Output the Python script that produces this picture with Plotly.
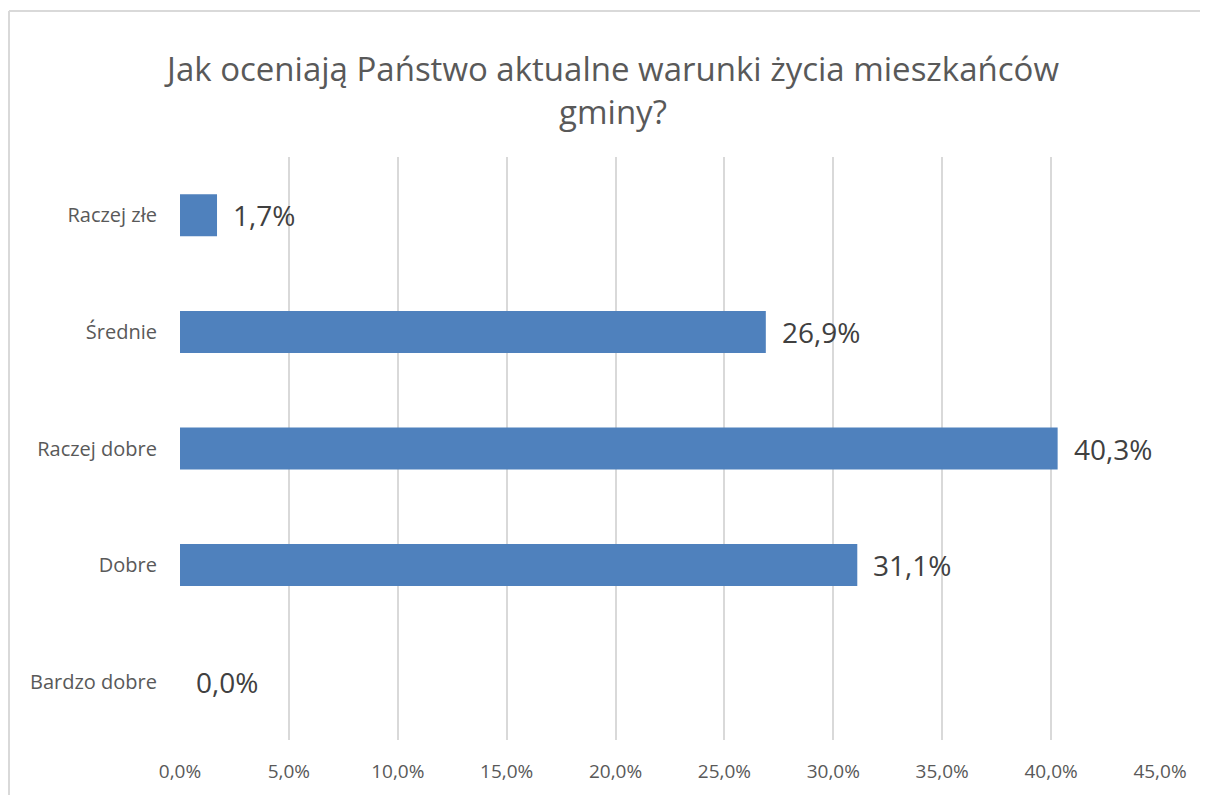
import plotly.graph_objects as go

categories = ["Raczej złe", "Średnie", "Raczej dobre", "Dobre", "Bardzo dobre"]
values = [1.7, 26.9, 40.3, 31.1, 0.0]
tick_vals = [0, 5, 10, 15, 20, 25, 30, 35, 40, 45]
tick_text = [f"{t:.1f}%".replace(".", ",") for t in tick_vals]
title_text = "Jak oceniają Państwo aktualne warunki życia mieszkańców<br>gminy?"

FONT = "Open Sans"
# page has an 8px body margin; figure coordinates are offset accordingly
W, H = 1200, 787
L, R, T, B = 172, 48, 149, 55

fig = go.Figure()
fig.add_trace(go.Bar(
    x=values, y=categories, orientation="h",
    marker=dict(color="#4F81BD", line=dict(width=0)),
    hoverinfo="skip",
))

for v, c in zip(values, categories):
    fig.add_annotation(
        x=v, y=c, xref="x", yref="y",
        text=f"{v:.1f}%".replace(".", ","),
        showarrow=False, xanchor="left", yanchor="middle",
        xshift=14, font=dict(family=FONT, size=28, color="#404040"),
    )

pw = W - L - R
ph = H - T - B
# left and top border lines of the chart frame
fig.add_shape(
    type="line", xref="paper", yref="paper",
    x0=(1 - L) / pw, x1=(1 - L) / pw,
    y0=-(B + 20) / ph, y1=(H - 3 - B) / ph,
    line=dict(color="#D9D9D9", width=2), layer="below",
)
fig.add_shape(
    type="line", xref="paper", yref="paper",
    x0=(1 - L) / pw, x1=(W + 40 - L) / pw,
    y0=(H - 3 - B) / ph, y1=(H - 3 - B) / ph,
    line=dict(color="#D9D9D9", width=2), layer="below",
)

fig.update_layout(
    width=W, height=H,
    margin=dict(l=L, r=R, t=T, b=B),
    paper_bgcolor="white", plot_bgcolor="white",
    bargap=0.64,
    showlegend=False,
    title=dict(
        text=title_text, x=605 / W, xanchor="center", xref="container",
        y=1 - 73 / H, yanchor="middle", yref="container",
        font=dict(family=FONT, size=33, color="#595959"),
    ),
    xaxis=dict(
        range=[0, 45], tickmode="array", tickvals=tick_vals, ticktext=tick_text,
        showgrid=True, gridcolor="#D9D9D9", gridwidth=2,
        zeroline=False, showline=False, ticks="",
        tickfont=dict(family=FONT, size=19, color="#595959"),
        ticklabelstandoff=18,
    ),
    yaxis=dict(
        categoryorder="array", categoryarray=categories, autorange="reversed",
        showgrid=False, zeroline=False, showline=False, ticks="",
        tickfont=dict(family=FONT, size=20, color="#595959"),
        ticklabelstandoff=22,
    ),
)

fig.write_html("out.html")
